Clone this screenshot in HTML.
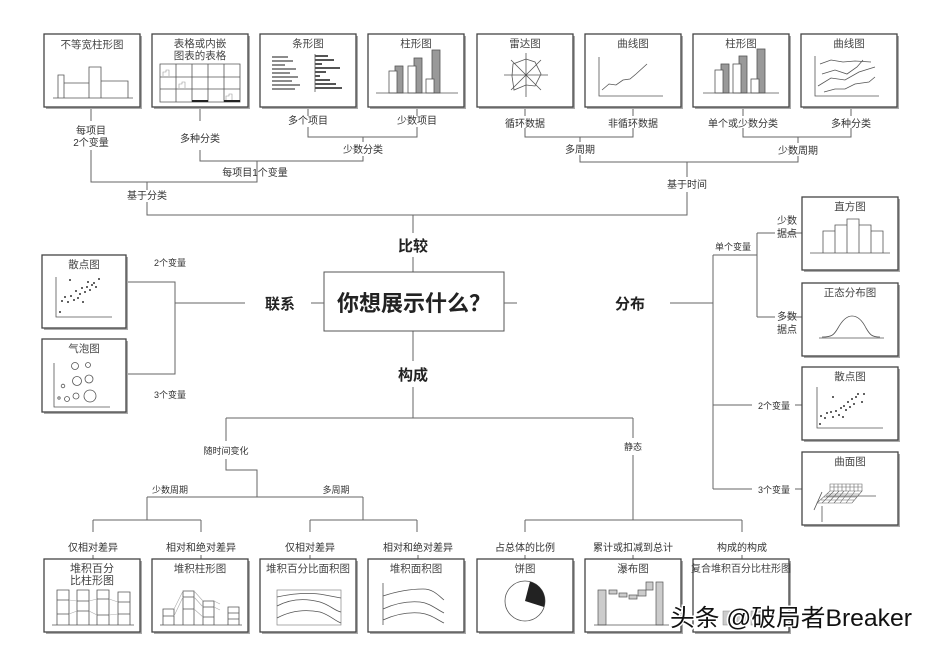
<!DOCTYPE html>
<html><head><meta charset="utf-8">
<style>
html,body{margin:0;padding:0;background:#fff;}
svg{display:block;}
text{font-family:"Liberation Sans","Noto Sans CJK SC",sans-serif;fill:#333;}
.l{stroke:#666;stroke-width:1;fill:none;}
.bx{fill:#fff;stroke:#444;stroke-width:1.3;}
.sh{fill:#aaa;}
.t{font-size:10.5px;text-anchor:middle;fill:#444;}
.s{font-size:10px;text-anchor:middle;}
.b{font-size:15px;font-weight:bold;text-anchor:middle;fill:#222;}
.c{stroke:#555;stroke-width:0.8;fill:none;}
.cf{stroke:#555;stroke-width:0.8;fill:#fff;}
.cg{stroke:#555;stroke-width:0.8;fill:#999;}
.d{fill:#333;}
</style></head><body>
<svg width="933" height="648" viewBox="0 0 933 648" xmlns="http://www.w3.org/2000/svg">
<defs>
<g id="box"><rect class="sh" x="2" y="2" width="96" height="73"/><rect class="bx" x="0" y="0" width="96" height="73"/></g>
<g id="sbox"><rect class="sh" x="2" y="2" width="84" height="73"/><rect class="bx" x="0" y="0" width="84" height="73"/></g>
</defs>

<!-- ===== Top connectors ===== -->
<path class="l" d="M91 107V121 M91 150V182H257V161 M200 107V121 M200 150V161H363V156 M308 107V116 M417 107V116 M308 127V137H417V127 M363 137V142"/>
<path class="l" d="M147 182V190 M147 202V215H687V192 M687 177V162"/>
<path class="l" d="M525 107V116 M633 107V116 M525 128V137H633V128 M580 137V142 M580 155V162H798V156 M743 107V116 M851 107V116 M743 128V137H851V128 M798 137V143"/>
<text class="s" x="91" y="134">每项目</text><text class="s" x="91" y="146">2个变量</text>
<text class="s" x="200" y="142">多种分类</text>
<text class="s" x="308" y="124">多个项目</text>
<text class="s" x="417" y="124">少数项目</text>
<text class="s" x="363" y="153">少数分类</text>
<text class="s" x="255" y="176">每项目1个变量</text>
<text class="s" x="147" y="199">基于分类</text>
<text class="s" x="525" y="127">循环数据</text>
<text class="s" x="633" y="127">非循环数据</text>
<text class="s" x="743" y="127">单个或少数分类</text>
<text class="s" x="851" y="127">多种分类</text>
<text class="s" x="580" y="153">多周期</text>
<text class="s" x="798" y="154">少数周期</text>
<text class="s" x="687" y="188">基于时间</text>

<!-- ===== Center ===== -->
<path class="l" d="M413 215V233 M413 257V272 M413 331V361 M413 387V418"/>
<text class="b" x="413" y="251">比较</text>
<rect x="324" y="272" width="180" height="59" fill="#fff" stroke="#555" stroke-width="1"/>
<text x="414" y="311" style="font-size:22px;font-weight:bold;text-anchor:middle;fill:#222">你想展示什么？</text>
<text class="b" x="413" y="380">构成</text>
<text class="b" x="280" y="309">联系</text>
<text class="b" x="630" y="309">分布</text>
<path class="l" d="M311 303H324 M245 303H175 M126 282H175V374H126"/>
<path class="l" d="M504 303H517 M670 303H713"/>
<text class="s" x="170" y="266" style="font-size:9px">2个变量</text>
<text class="s" x="170" y="398" style="font-size:9px">3个变量</text>

<!-- ===== Right distribution ===== -->
<path class="l" d="M713 255V489 M713 255H757 M757 233V317 M757 233H775 M757 317H775 M787 233H802 M787 317H802 M713 405H752 M795 405H802 M713 489H752 M795 489H802"/>
<text class="s" x="733" y="250" style="font-size:9px">单个变量</text>
<text class="s" x="787" y="224">少数</text><text class="s" x="787" y="237">据点</text>
<text class="s" x="787" y="320">多数</text><text class="s" x="787" y="333">据点</text>
<text class="s" x="774" y="409" style="font-size:9px">2个变量</text>
<text class="s" x="774" y="493" style="font-size:9px">3个变量</text>

<!-- ===== Bottom connectors ===== -->
<path class="l" d="M226 418H633 M226 418V441 M226 459V470H257V497 M147 497H363 M147 497V520 M93 520H201 M93 520V532 M201 520V532 M363 497V520 M310 520H417 M310 520V532 M417 520V532"/>
<path class="l" d="M633 418V438 M633 455V520 M525 520H742 M525 520V532 M742 520V532"/>
<text class="s" x="226" y="454" style="font-size:9px">随时间变化</text>
<text class="s" x="633" y="450" style="font-size:9px">静态</text>
<text class="s" x="170" y="493" style="font-size:9px">少数周期</text>
<text class="s" x="336" y="493" style="font-size:9px">多周期</text>
<text class="s" x="93" y="551">仅相对差异</text>
<text class="s" x="201" y="551">相对和绝对差异</text>
<text class="s" x="310" y="551">仅相对差异</text>
<text class="s" x="418" y="551">相对和绝对差异</text>
<text class="s" x="525" y="551">占总体的比例</text>
<text class="s" x="633" y="551">累计或扣减到总计</text>
<text class="s" x="742" y="551">构成的构成</text>
<path class="l" d="M93 555V559 M201 555V559 M310 555V559 M418 555V559 M525 555V559 M633 555V559 M742 555V559"/>

<!-- ===== Top boxes ===== -->
<g transform="translate(44,34)"><use href="#box"/><text class="t" x="48" y="14">不等宽柱形图</text>
<path class="c" d="M14 64V41H20V64 M20 49H45V64 M45 64V33H57V64 M57 47H84V64 M9 64H89"/></g>

<g transform="translate(152,34)"><use href="#box"/><text class="t" x="48" y="13">表格或内嵌</text><text class="t" x="48" y="25">图表的表格</text>
<path class="c" d="M8 30H88V68H8Z M24 30V68 M40 30V68 M56 30V68 M72 30V68 M8 43H88 M8 55H88"/>
<path d="M11 42V38H14V36H17V42 M27 54V50H30V48H33V54 M74 66V62H77V60H80V66" stroke="#999" stroke-width="0.6" fill="none"/>
<rect x="40" y="66" width="16" height="2" fill="#222"/><rect x="72" y="66" width="16" height="2" fill="#222"/></g>

<g transform="translate(260,34)"><use href="#box"/><text class="t" x="48" y="13">条形图</text>
<g stroke="#666" stroke-width="1.6"><path d="M12 23H28 M12 27H33 M12 31H25 M12 35H36 M12 39H30 M12 43H38 M12 47H32 M12 51H40 M12 55H35"/></g>
<g stroke="#555" stroke-width="2"><path d="M55 22H68 M55 26H74 M55 30H62 M55 34H80 M55 38H66 M55 42H60 M55 46H70 M55 50H76 M55 54H82"/></g>
<path class="c" d="M55 20V58"/></g>

<g transform="translate(368,34)"><use href="#box"/><text class="t" x="48" y="13">柱形图</text>
<rect class="cg" x="27" y="32" width="8" height="27"/><rect class="cf" x="21" y="37" width="8" height="22"/>
<rect class="cg" x="46" y="24" width="8" height="35"/><rect class="cf" x="40" y="32" width="8" height="27"/>
<rect class="cg" x="64" y="16" width="8" height="43"/><rect class="cf" x="58" y="45" width="8" height="14"/>
<path class="c" d="M8 59H90"/></g>

<g transform="translate(477,34)"><use href="#box"/><text class="t" x="48" y="13">雷达图</text>
<path class="c" d="M27 41H71 M49 19V63 M34 26L64 56 M64 26L34 56" stroke="#888"/>
<path class="c" d="M36 30L49 25L58 28L64 40L58 52L49 51L37 56L35 42Z"/></g>

<g transform="translate(585,34)"><use href="#box"/><text class="t" x="48" y="13">曲线图</text>
<path class="c" d="M14 23V62H78"/>
<path class="c" d="M17 56L24 50L31 51L38 46L45 45L51 40L62 30"/></g>

<g transform="translate(693,34)"><use href="#box"/><text class="t" x="48" y="13">柱形图</text>
<rect class="cg" x="28" y="30" width="8" height="29"/><rect class="cf" x="22" y="36" width="8" height="23"/>
<rect class="cg" x="46" y="22" width="8" height="37"/><rect class="cf" x="40" y="30" width="8" height="29"/>
<rect class="cg" x="64" y="15" width="8" height="44"/><rect class="cf" x="58" y="45" width="8" height="14"/>
<path class="c" d="M10 59H86"/></g>

<g transform="translate(801,34)"><use href="#box"/><text class="t" x="48" y="13">曲线图</text>
<path class="c" d="M14 22V62H78"/>
<path class="c" d="M19 30L30 26L42 28L54 27L70 28 M21 40L34 36L46 40L56 33L62 26 M17 52L30 44L44 46L58 38L74 33 M23 58L34 55L44 55L54 50L68 48L74 43"/></g>

<!-- ===== Left boxes ===== -->
<g transform="translate(42,255)"><use href="#sbox"/><text class="t" x="42" y="13">散点图</text>
<path class="c" d="M14 22V62H70"/>
<g class="d"><circle cx="18" cy="57" r="1"/><circle cx="20" cy="46" r="1"/><circle cx="23" cy="42" r="1"/><circle cx="26" cy="47" r="1"/><circle cx="29" cy="41" r="1"/><circle cx="32" cy="45" r="1"/><circle cx="34" cy="36" r="1"/><circle cx="36" cy="43" r="1"/><circle cx="38" cy="39" r="1"/><circle cx="40" cy="33" r="1"/><circle cx="41" cy="47" r="1"/><circle cx="43" cy="37" r="1"/><circle cx="45" cy="32" r="1"/><circle cx="46" cy="27" r="1"/><circle cx="48" cy="35" r="1"/><circle cx="50" cy="30" r="1"/><circle cx="52" cy="28" r="1"/><circle cx="54" cy="32" r="1"/><circle cx="57" cy="24" r="1"/><circle cx="28" cy="25" r="1"/></g></g>

<g transform="translate(42,339)"><use href="#sbox"/><text class="t" x="42" y="13">气泡图</text>
<path class="c" d="M12 24V68H68"/>
<g class="c"><circle cx="33" cy="27" r="3.5"/><circle cx="46" cy="26" r="2.5"/><circle cx="35" cy="42" r="4.5"/><circle cx="47" cy="40" r="4"/><circle cx="21" cy="47" r="1.8"/><circle cx="17" cy="59" r="1.2"/><circle cx="25" cy="60" r="2.5"/><circle cx="34" cy="57" r="3"/><circle cx="48" cy="57" r="6"/></g></g>

<!-- ===== Right boxes ===== -->
<g transform="translate(802,197)"><use href="#box"/><text class="t" x="48" y="13">直方图</text>
<path class="c" d="M21 56V34H33V56 M33 56V28H45V56 M45 56V22H57V56 M57 56V28H69V56 M69 56V34H81V56 M8 56H88"/></g>

<g transform="translate(802,283)"><use href="#box"/><text class="t" x="48" y="13">正态分布图</text>
<path class="c" d="M17 55H82"/>
<path class="c" d="M20 54C30 54 32 52 36 45C41 36 46 33 50 33C55 33 60 37 64 45C68 52 70 54 78 54"/></g>

<g transform="translate(802,367)"><use href="#box"/><text class="t" x="48" y="13">散点图</text>
<path class="c" d="M15 20V61H81"/>
<g class="d"><circle cx="18" cy="57" r="1"/><circle cx="19" cy="49" r="1"/><circle cx="23" cy="51" r="1"/><circle cx="25" cy="46" r="1"/><circle cx="29" cy="45" r="1"/><circle cx="31" cy="50" r="1"/><circle cx="34" cy="44" r="1"/><circle cx="37" cy="48" r="1"/><circle cx="39" cy="41" r="1"/><circle cx="41" cy="50" r="1"/><circle cx="42" cy="39" r="1"/><circle cx="44" cy="43" r="1"/><circle cx="46" cy="35" r="1"/><circle cx="48" cy="40" r="1"/><circle cx="50" cy="32" r="1"/><circle cx="52" cy="37" r="1"/><circle cx="54" cy="30" r="1"/><circle cx="56" cy="27" r="1"/><circle cx="60" cy="35" r="1"/><circle cx="62" cy="27" r="1"/><circle cx="31" cy="30" r="1"/></g></g>

<g transform="translate(802,452)"><use href="#box"/><text class="t" x="48" y="13">曲面图</text>
<path class="c" d="M20 40L12 58 M24 44H74 M20 54V70" stroke="#888"/>
<path d="M15 51L28 39H60L50 51Z M28 39V32H60V39 M32 32V39 M36 32V39 M40 32V39 M44 32V39 M48 32V39 M52 32V39 M56 32V39 M28 35H60 M22 45H55 M19 48H52 M25 42H57 M20 51L32 39 M26 51L37 39 M32 51L42 39 M38 51L47 39 M44 51L53 39" stroke="#666" stroke-width="0.6" fill="none"/></g>

<!-- ===== Bottom boxes ===== -->
<g transform="translate(44,559)"><use href="#box"/><text class="t" x="48" y="13" style="font-size:11px">堆积百分</text><text class="t" x="48" y="25" style="font-size:11px">比柱形图</text>
<path class="c" d="M13 31H25V66H13Z M33 31H45V66H33Z M53 31H65V66H53Z M74 33H86V66H74Z M13 41H25 M13 55H25 M33 42H45 M33 52H45 M53 40H65 M53 56H65 M74 43H86 M74 55H86 M8 66H90"/>
<path d="M25 41L33 42 M25 55L33 52 M45 42L53 40 M45 52L53 56 M65 40L74 43 M65 56L74 55" stroke="#aaa" stroke-width="0.6"/></g>

<g transform="translate(152,559)"><use href="#box"/><text class="t" x="48" y="13">堆积柱形图</text>
<path class="c" d="M11 50H22V66H11Z M11 57H22 M31 32H42V66H31Z M31 38H42 M31 50H42 M51 42H62V66H51Z M51 48H62 M51 58H62 M76 48H87V66H76Z M76 54H87 M76 60H87 M8 66H90"/>
<path d="M22 50L31 32 M22 57L31 38 M42 32L51 42 M42 38L51 48 M42 50L51 58 M62 42L68 45 M62 48L68 51" stroke="#aaa" stroke-width="0.6"/></g>

<g transform="translate(260,559)"><use href="#box"/><text class="t" x="48" y="13">堆积百分比面积图</text>
<rect x="17" y="31" width="64" height="35" fill="none" stroke="#888" stroke-width="0.7"/>
<path class="c" d="M17 38C35 34 50 33 65 36L81 39 M17 47C30 40 45 39 60 43C70 46 75 52 81 53 M17 59C30 52 45 50 60 53C70 56 75 62 81 64"/></g>

<g transform="translate(368,559)"><use href="#box"/><text class="t" x="48" y="13">堆积面积图</text>
<path class="c" d="M15 24V66 M15 37C30 32 45 30 55 30C65 30 70 36 76 41 M15 50C28 44 40 42 52 43C62 44 68 50 76 54 M15 61C28 55 40 53 52 54C62 55 68 60 76 64"/></g>

<g transform="translate(477,559)"><use href="#box"/><text class="t" x="48" y="13">饼图</text>
<circle cx="48" cy="42" r="20" class="c"/>
<path d="M48 42L53 22.6A20 20 0 0 1 67 48Z" fill="#222"/></g>

<g transform="translate(585,559)"><use href="#box"/><text class="t" x="48" y="13">瀑布图</text>
<g fill="#ccc" stroke="#555" stroke-width="0.7">
<rect x="13" y="31" width="8" height="35"/><rect x="24" y="31" width="8" height="4"/><rect x="34" y="34" width="8" height="4"/><rect x="44" y="36" width="8" height="4"/><rect x="53" y="31" width="8" height="6"/><rect x="61" y="23" width="7" height="8"/><rect x="71" y="23" width="7" height="43"/></g>
<path class="c" d="M9 66H84"/></g>

<g transform="translate(693,559)"><use href="#box"/><text class="t" x="48" y="13" style="font-size:10px">复合堆积百分比柱形图</text>
<g fill="#ccc" stroke="#888" stroke-width="0.5"><rect x="30" y="52" width="10" height="14"/><rect x="44" y="52" width="10" height="14"/><rect x="58" y="52" width="10" height="14"/></g></g>

<!-- watermark -->
<text x="670" y="626" textLength="242" lengthAdjust="spacingAndGlyphs" style="font-family:'Liberation Sans','Noto Sans CJK SC',sans-serif;font-size:24px;fill:#111;stroke:#fff;stroke-width:3;paint-order:stroke;">头条 @破局者Breaker</text>
</svg>
</body></html>
